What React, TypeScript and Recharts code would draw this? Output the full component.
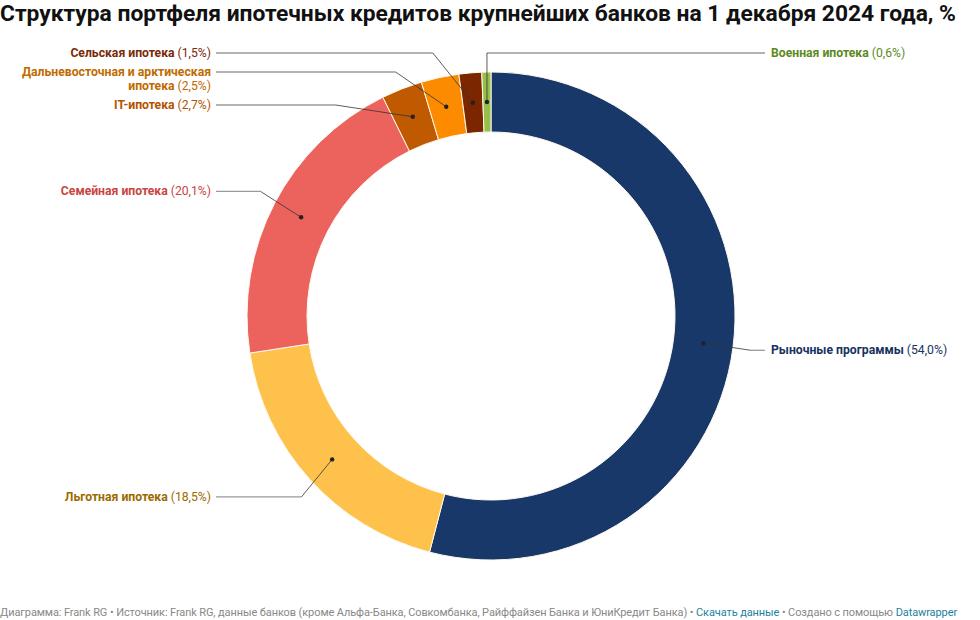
import React from "react"
import { Pie, PieChart, Cell } from "recharts"

// Структура портфеля, % (по часовой стрелке от 12 часов)
const categories = [
  "Рыночные программы",
  "Льготная ипотека",
  "Семейная ипотека",
  "IT-ипотека",
  "Дальневосточная и арктическая ипотека",
  "Сельская ипотека",
  "Военная ипотека",
]
const shares = [54.0, 18.5, 20.1, 2.7, 2.5, 1.5, 0.6]

const sliceColors = ["#18386a", "#fec24c", "#ec625d", "#bf5a00", "#fd8b00", "#7c2600", "#97c04a"]
const labelColors = ["#17335f", "#9c6b00", "#c94541", "#b35300", "#c06a00", "#7a2a08", "#5d8a1c"]

const data = categories.map((name, i) => ({ name, value: shares[i] }))

const FONT = "Roboto, 'Noto Sans', Arial, sans-serif"
const RAD = Math.PI / 180
const CX = 491
const CY = 316
const INNER = 184
const OUTER = 244

const fmt = (v: number) => v.toFixed(1).replace(".", ",")

// wrap long label text into lines of at most ~30 characters
function wrap(text: string, max = 30): string[] {
  const words = text.split(" ")
  const lines: string[] = []
  let cur = ""
  for (const w of words) {
    if (cur && (cur + " " + w).length > max) {
      lines.push(cur)
      cur = w
    } else {
      cur = cur ? cur + " " + w : w
    }
  }
  if (cur) lines.push(cur)
  return lines
}

// label positions with simple collision avoidance (like Datawrapper)
type LabelPos = { y: number; lines: string[]; right: boolean }
function computeLabels(): LabelPos[] {
  const total = shares.reduce((a, b) => a + b, 0)
  let acc = 0
  const items = shares.map((v, i) => {
    const mid = 90 - ((acc + v / 2) / total) * 360
    acc += v
    const x = CX + 270 * Math.cos(mid * RAD)
    const y = CY - 270 * Math.sin(mid * RAD)
    const lines = wrap(`${categories[i]} (${fmt(v)}%)`)
    return { i, x, y, lines, right: x > CX }
  })
  // smallest slice near 12 o'clock goes to the right column
  items[items.length - 1].right = true
  const out: LabelPos[] = []
  for (const side of [true, false]) {
    const group = items.filter((it) => it.right === side).sort((a, b) => a.y - b.y)
    let prevBottom = -Infinity
    for (const it of group) {
      const y = Math.max(it.y, 53, prevBottom + 19)
      prevBottom = y + (it.lines.length - 1) * 14
      out[it.i] = { y, lines: it.lines, right: side }
    }
  }
  return out
}
const labelPos = computeLabels()

const renderLabel = (props: any) => {
  const { midAngle, index, cx, cy } = props
  const pos = labelPos[index]
  const rMid = (INNER + OUTER) / 2
  const dx = cx + rMid * Math.cos(-midAngle * RAD)
  const dy = cy + rMid * Math.sin(-midAngle * RAD)
  const R2 = 262
  const h = Math.abs(pos.y - cy)
  let ex = h < R2 ? Math.sqrt(R2 * R2 - h * h) : 0
  ex = pos.right ? cx + ex : cx - ex
  if (pos.right && ex < dx) ex = dx
  if (!pos.right && ex > dx - 30) ex = Math.min(ex, dx - 40)
  if (pos.right && index === categories.length - 1) ex = dx
  const lineEnd = pos.right ? cx + 274 : cx - 275
  const textX = pos.right ? cx + 280 : cx - 280
  const color = labelColors[index]
  const last = pos.lines.length - 1
  return (
    <g key={`lbl-${index}`}>
      <line x1={lineEnd} y1={pos.y} x2={ex} y2={pos.y} stroke="#9a9a9a" strokeWidth={1.3} />
      <line x1={ex} y1={pos.y} x2={dx} y2={dy} stroke="#333" strokeWidth={0.8} />
      <circle cx={dx} cy={dy} r={2.2} fill="#222" />
      {pos.lines.map((ln, k) => {
        const m = ln.match(/^(.*?)(\s*\([\d,]+%\))$/)
        return (
          <text
            key={k}
            x={textX}
            y={pos.y + k * 14}
            dy={4}
            textAnchor={pos.right ? "start" : "end"}
            fontFamily={FONT}
            fontSize={12.2}
            fill={color}
          >
            {k === last && m ? (
              <>
                <tspan fontWeight={700}>{m[1]}</tspan>
                <tspan fontWeight={400}>{m[2]}</tspan>
              </>
            ) : (
              <tspan fontWeight={700}>{ln}</tspan>
            )}
          </text>
        )
      })}
    </g>
  )
}

export default function App() {
  return (
    <div
      style={{
        position: "absolute",
        left: 0,
        top: 0,
        width: 980,
        height: 620,
        background: "#fff",
        fontFamily: FONT,
        overflow: "hidden",
      }}
    >
      <PieChart
        width={980}
        height={620}
        margin={{ top: 0, right: 0, bottom: 0, left: 0 }}
        style={{ position: "absolute", left: 0, top: 0 }}
      >
        <Pie
          data={data}
          dataKey="value"
          nameKey="name"
          cx={CX}
          cy={CY}
          innerRadius={INNER}
          outerRadius={OUTER}
          startAngle={90}
          endAngle={-270}
          stroke="#fff8ee"
          strokeWidth={1}
          label={renderLabel}
          labelLine={false}
          isAnimationActive={false}
        >
          {data.map((d, i) => (
            <Cell key={d.name} fill={sliceColors[i]} />
          ))}
        </Pie>
      </PieChart>
      <div
        style={{
          position: "absolute",
          left: 0,
          top: 0,
          fontSize: 22.8,
          fontWeight: 700,
          color: "#111",
          whiteSpace: "nowrap",
        }}
      >
        Структура портфеля ипотечных кредитов крупнейших банков на 1 декабря 2024 года, %
      </div>
      <div
        style={{
          position: "absolute",
          left: 0,
          top: 606,
          fontSize: 11,
          color: "#888",
          whiteSpace: "nowrap",
          letterSpacing: -0.1,
        }}
      >
        Диаграмма: Frank RG • Источник: Frank RG, данные банков (кроме Альфа-Банка, Совкомбанка, Райффайзен Банка и ЮниКредит Банка) •{" "}
        <span style={{ color: "#1d81a2" }}>Скачать данные</span> • Создано с помощью{" "}
        <span style={{ color: "#1d81a2" }}>Datawrapper</span>
      </div>
    </div>
  )
}
